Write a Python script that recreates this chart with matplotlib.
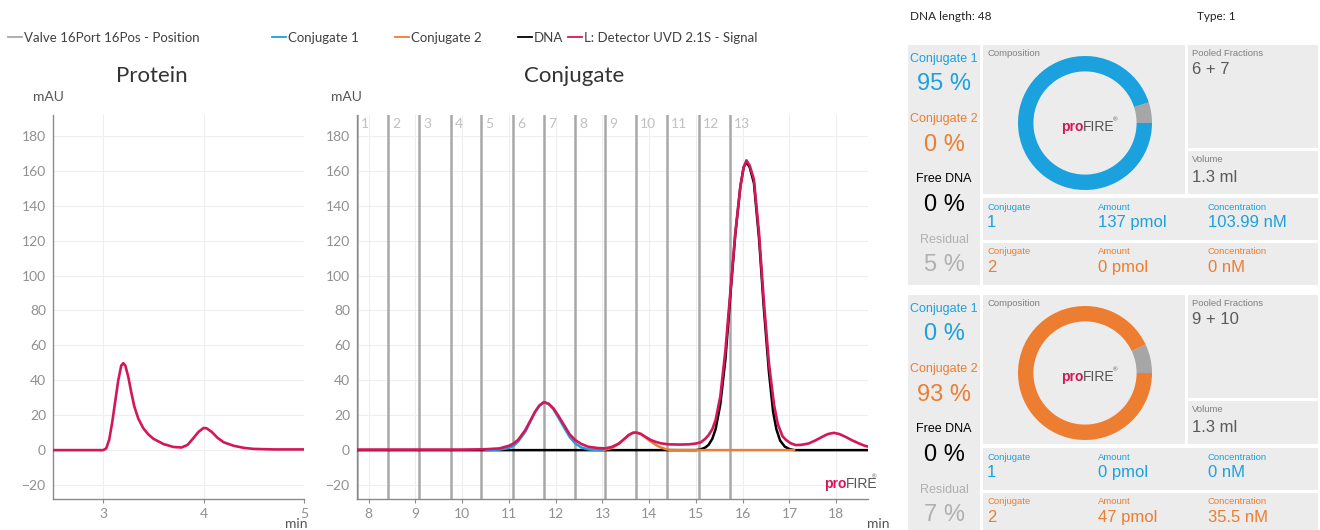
import matplotlib
matplotlib.use("Agg")
import matplotlib.pyplot as plt
from matplotlib.patches import Rectangle

# ---------------------------------------------------------------------------
# data
# ---------------------------------------------------------------------------
# Protein run: detector signal (min, mAU)
protein_t = [2.5, 3.0, 3.03, 3.06, 3.09, 3.12, 3.15, 3.18, 3.2, 3.22, 3.25, 3.28,
             3.31, 3.35, 3.4, 3.45, 3.5, 3.6, 3.7, 3.78, 3.84, 3.9, 3.95, 4.0,
             4.03, 4.08, 4.14, 4.2, 4.3, 4.4, 4.5, 4.7, 5.0]
protein_mau = [0.0, 0.0, 1.0, 6.0, 16.0, 28.0, 40.0, 48.5, 49.8, 48.5, 42.0, 33.0,
               25.0, 18.0, 12.5, 9.0, 6.5, 3.5, 1.8, 1.5, 3.0, 7.0, 10.5, 12.7,
               12.5, 10.5, 7.0, 4.5, 2.5, 1.3, 0.7, 0.4, 0.4]

# Conjugate run: detector signal
signal_t = [7.75, 10.0, 10.5, 10.8, 11.0, 11.1, 11.2, 11.35, 11.45, 11.56, 11.65,
            11.75, 11.85, 11.95, 12.05, 12.2, 12.3, 12.42, 12.55, 12.7, 12.9,
            13.06, 13.2, 13.35, 13.45, 13.56, 13.65, 13.72, 13.82, 13.92, 14.02,
            14.13, 14.25, 14.42, 14.65, 14.85, 15.0, 15.1, 15.2, 15.27, 15.35,
            15.42, 15.52, 15.63, 15.74, 15.84, 15.95, 16.02, 16.08, 16.15, 16.24,
            16.35, 16.45, 16.56, 16.67, 16.75, 16.85, 16.92, 17.02, 17.13, 17.25,
            17.41, 17.55, 17.7, 17.82, 17.95, 18.07, 18.2, 18.35, 18.49, 18.6, 18.7]
signal_mau = [0.3, 0.3, 0.5, 1.0, 2.5, 3.8, 6.0, 11.5, 16.5, 22.0, 25.5,
              27.5, 26.5, 24.0, 20.0, 13.4, 9.0, 5.7, 3.5, 1.9, 1.2,
              1.0, 1.8, 3.8, 6.0, 8.6, 9.9, 10.1, 9.3, 7.6, 6.0,
              4.8, 3.9, 3.3, 3.2, 3.3, 3.8, 4.4, 6.5, 8.6, 12.0,
              17.2, 30.6, 57.0, 92.0, 124.0, 151.0, 162.0, 166.0, 163.0, 155.0,
              124.0, 86.0, 50.0, 26.0, 15.0, 8.0, 6.0, 4.0, 2.9, 3.0,
              3.8, 5.5, 7.6, 9.2, 9.9, 9.2, 7.6, 5.5, 3.8, 2.6, 1.9]

# fitted components
conj1_t = [10.5, 10.8, 11.0, 11.1, 11.2, 11.35, 11.45, 11.56, 11.65, 11.75, 11.85,
           11.95, 12.05, 12.2, 12.3, 12.42, 12.55, 12.7, 12.9, 13.0]
conj1_mau = [0.0, 0.3, 1.2, 2.5, 5.0, 10.5, 16.0, 22.0, 25.5, 27.5, 26.5,
             23.5, 19.0, 12.0, 7.5, 3.8, 1.5, 0.4, 0.0, 0.0]

conj2_t = [13.0, 13.2, 13.35, 13.45, 13.56, 13.65, 13.72, 13.82, 13.92, 14.02,
           14.13, 14.25, 14.35, 14.45, 14.6, 17.1]
conj2_mau = [0.0, 1.2, 3.5, 6.0, 8.6, 9.9, 10.1, 9.2, 7.3, 5.2,
             3.2, 1.5, 0.6, 0.1, 0.0, 0.0]

dna_t = [7.75, 15.0, 15.1, 15.2, 15.27, 15.35, 15.42, 15.52, 15.63, 15.74, 15.84,
         15.95, 16.02, 16.08, 16.15, 16.24, 16.35, 16.45, 16.56, 16.65, 16.72,
         16.8, 16.9, 17.0, 17.1, 18.7]
dna_mau = [0.0, 0.0, 0.4, 1.5, 3.0, 6.5, 12.0, 26.0, 52.0, 90.0, 123.0,
           151.0, 162.0, 165.0, 162.0, 153.0, 121.0, 82.0, 45.0, 22.0, 12.0,
           5.5, 2.0, 0.6, 0.0, 0.0]

# fraction collector (valve position changes)
fraction_t = [7.75, 8.42, 9.08, 9.75, 10.41, 11.08, 11.75, 12.41, 13.06, 13.71,
              14.38, 15.06, 15.73]
fraction_labels = ["1", "2", "3", "4", "5", "6", "7", "8", "9", "10", "11", "12", "13"]

# summary panels (one entry per pooled peak)
dna_length = 48
seq_type = 1
pooled = ["6 + 7", "9 + 10"]
volume_ml = [1.3, 1.3]
conj1_pct = [95, 0]
conj2_pct = [0, 93]
free_dna_pct = [0, 0]
residual_pct = [5, 7]
conj1_pmol = [137, 0]
conj1_nm = [103.99, 0]
conj2_pmol = [0, 47]
conj2_nm = [0, 35.5]

# ---------------------------------------------------------------------------
# colours / fonts
# ---------------------------------------------------------------------------
BLUE = "#1ba1de"
ORANGE = "#ed7d31"
RED = "#d3175a"
VALVE = "#a8a8a8"
RESID = "#a6a6a6"
BOX = "#ececec"
CHART_FONT = "Lato"
DASH_FONT = "Liberation Sans"

W, H = 1320, 530
fig = plt.figure(figsize=(W / 100, H / 100), dpi=100)


def frac_box(x, y, w, h):
    # pixel box (top-left origin) -> figure fraction rect
    return [x / W, 1 - (y + h) / H, w / W, h / H]


def style_chart(ax, xlim, xticks):
    ax.set_xlim(*xlim)
    ax.set_ylim(-28, 192)
    ax.set_xticks(xticks)
    ax.set_yticks(range(-20, 181, 20))
    ax.grid(color="#eeeeee", lw=0.8, zorder=0)
    ax.set_axisbelow(True)
    for s in ("top", "right"):
        ax.spines[s].set_visible(False)
    for s in ("left", "bottom"):
        ax.spines[s].set_color("#8a8a8a")
        ax.spines[s].set_linewidth(1.0)
    ax.tick_params(colors="#8a8a8a", labelsize=10, length=3, width=0.8)
    ax.tick_params(axis="y", length=0, pad=5)
    for lab in ax.get_xticklabels() + ax.get_yticklabels():
        lab.set_fontfamily(CHART_FONT)
        lab.set_color("#909090")
    ax.text(-0.02, 1.03, "mAU", transform=ax.transAxes, ha="center", va="bottom",
            fontsize=10, color="#555555", family=CHART_FONT)


# ---------------------------------------------------------------------------
# Protein chromatogram
# ---------------------------------------------------------------------------
ax1 = fig.add_axes(frac_box(53, 115, 251, 384))
style_chart(ax1, (2.5, 5.0), [3, 4, 5])
ax1.plot(protein_t, protein_mau, color=RED, lw=1.9, zorder=5)
ax1.set_title("Protein", fontsize=16, family=CHART_FONT, color="#333333",
              x=0.394, y=1.065)
ax1.text(0.97, -0.05, "min", transform=ax1.transAxes, ha="center", va="top",
         fontsize=10, color="#555555", family=CHART_FONT)

# ---------------------------------------------------------------------------
# Conjugate chromatogram
# ---------------------------------------------------------------------------
ax2 = fig.add_axes(frac_box(357, 115, 511, 384))
style_chart(ax2, (7.75, 18.68), range(8, 19))

valve_line = None
for t, lab in zip(fraction_t, fraction_labels):
    valve_line = ax2.axvline(t, color=VALVE, lw=1.8, zorder=2)
    ax2.annotate(lab, (t, 187), xytext=(3, 0), textcoords="offset points",
                 ha="left", va="center", fontsize=10, color="#c0c0c0",
                 family=CHART_FONT)

l_dna, = ax2.plot(dna_t, dna_mau, color="black", lw=1.8, zorder=3)
l_c2, = ax2.plot(conj2_t, conj2_mau, color=ORANGE, lw=1.8, zorder=4)
l_c1, = ax2.plot(conj1_t, conj1_mau, color=BLUE, lw=1.8, zorder=4)
l_sig, = ax2.plot(signal_t, signal_mau, color=RED, lw=1.9, zorder=5)

ax2.set_title("Conjugate", fontsize=16, family=CHART_FONT, color="#333333",
              x=0.425, y=1.065)
ax2.text(1.02, -0.05, "min", transform=ax2.transAxes, ha="center", va="top",
         fontsize=10, color="#555555", family=CHART_FONT)

# proFIRE watermark
ax2.text(0.957, 0.04, "pro", transform=ax2.transAxes, ha="right", va="center",
         fontsize=10, weight="bold", color=RED, family=DASH_FONT)
ax2.text(0.957, 0.04, "FIRE", transform=ax2.transAxes, ha="left", va="center",
         fontsize=10, color="#555555", family=DASH_FONT)
ax2.text(1.008, 0.058, "®", transform=ax2.transAxes, ha="left", va="center",
         fontsize=4.5, color="#555555", family=DASH_FONT)

# legend row, one entry at a time so the spacing follows the original
legend_items = [
    (valve_line, "Valve 16Port 16Pos - Position", 8),
    (l_c1, "Conjugate 1", 272),
    (l_c2, "Conjugate 2", 395),
    (l_dna, "DNA", 518),
    (l_sig, "L: Detector UVD 2.1S - Signal", 568),
]
for handle, text, px in legend_items:
    leg = fig.legend([handle], [text], loc="center left",
                     bbox_to_anchor=(px / W, 1 - 38 / H), frameon=False,
                     handlelength=1.05, handletextpad=0.15, borderpad=0,
                     borderaxespad=0, prop={"family": CHART_FONT, "size": 9.5})
    leg.get_lines()[0].set_linewidth(1.3)
    leg.get_texts()[0].set_color("#404040")

# ---------------------------------------------------------------------------
# summary dashboard (pixel coordinates, y down)
# ---------------------------------------------------------------------------
dash = fig.add_axes([0, 0, 1, 1])
dash.set_xlim(0, W)
dash.set_ylim(H, 0)
dash.axis("off")

dash.text(910, 16, f"DNA length: {dna_length}", fontsize=8.5, family=CHART_FONT,
          color="#222222", va="center")
dash.text(1197, 16, f"Type: {seq_type}", fontsize=8.5, family=CHART_FONT,
          color="#222222", va="center")


def txt(x, y, s, size, color, ha="left"):
    dash.text(x, y, s, fontsize=size, color=color, ha=ha, va="center",
              family=DASH_FONT)


for i, y0 in enumerate([45, 295]):
    # grey tiles
    for (x, y, w, h) in [(908, y0, 72, 240), (983, y0, 202, 149),
                         (1188, y0, 130, 103), (1188, y0 + 106, 130, 43),
                         (983, y0 + 153, 335, 42), (983, y0 + 198, 335, 42)]:
        dash.add_patch(Rectangle((x, y), w, h, facecolor=BOX, edgecolor="none"))

    # left column with percentages
    cx = 944
    txt(cx, y0 + 14, "Conjugate 1", 9, BLUE, "center")
    txt(cx, y0 + 39, f"{conj1_pct[i]} %", 17, BLUE, "center")
    txt(cx, y0 + 74, "Conjugate 2", 9, ORANGE, "center")
    txt(cx, y0 + 100, f"{conj2_pct[i]} %", 17, ORANGE, "center")
    txt(cx, y0 + 134, "Free DNA", 9, "black", "center")
    txt(cx, y0 + 160, f"{free_dna_pct[i]} %", 17, "black", "center")
    txt(cx, y0 + 195, "Residual", 9, "#b0b0b0", "center")
    txt(cx, y0 + 220, f"{residual_pct[i]} %", 17, "#b0b0b0", "center")

    txt(987, y0 + 9, "Composition", 6.8, "#808080")
    txt(1192, y0 + 9, "Pooled Fractions", 6.8, "#808080")
    txt(1192, y0 + 25, pooled[i], 12, "#5a5a5a")
    txt(1192, y0 + 115, "Volume", 6.8, "#808080")
    txt(1192, y0 + 132, f"{volume_ml[i]:g} ml", 12, "#5a5a5a")

    # amount / concentration rows
    rows = [(y0 + 162, "1", conj1_pmol[i], conj1_nm[i], BLUE),
            (y0 + 207, "2", conj2_pmol[i], conj2_nm[i], ORANGE)]
    for ly, num, pmol, nm, col in rows:
        txt(987, ly, "Conjugate", 6.8, col)
        txt(987, ly + 15.5, num, 12, col)
        txt(1098, ly, "Amount", 6.8, col)
        txt(1098, ly + 15.5, f"{pmol:g} pmol", 12, col)
        txt(1208, ly, "Concentration", 6.8, col)
        txt(1208, ly + 15.5, f"{nm:g} nM", 12, col)

    # composition donut
    donut = fig.add_axes(frac_box(1085 - 67, y0 + 78 - 67, 134, 134))
    donut.pie([residual_pct[i], conj1_pct[i], conj2_pct[i], free_dna_pct[i]],
              colors=[RESID, BLUE, ORANGE, "black"], startangle=0,
              counterclock=True, radius=1.0,
              wedgeprops=dict(width=0.23, edgecolor="none", linewidth=0))
    donut.set_xlim(-1, 1)
    donut.set_ylim(-1, 1)
    donut.axis("off")
    donut.text(-0.03, -0.06, "pro", ha="right", va="center", fontsize=10,
               weight="bold", color=RED, family=DASH_FONT)
    donut.text(-0.03, -0.06, "FIRE", ha="left", va="center", fontsize=10,
               color="#555555", family=DASH_FONT)
    donut.text(0.42, 0.04, "®", ha="left", va="center", fontsize=4.5,
               color="#555555", family=DASH_FONT)

fig.savefig("out.png", dpi=100)
